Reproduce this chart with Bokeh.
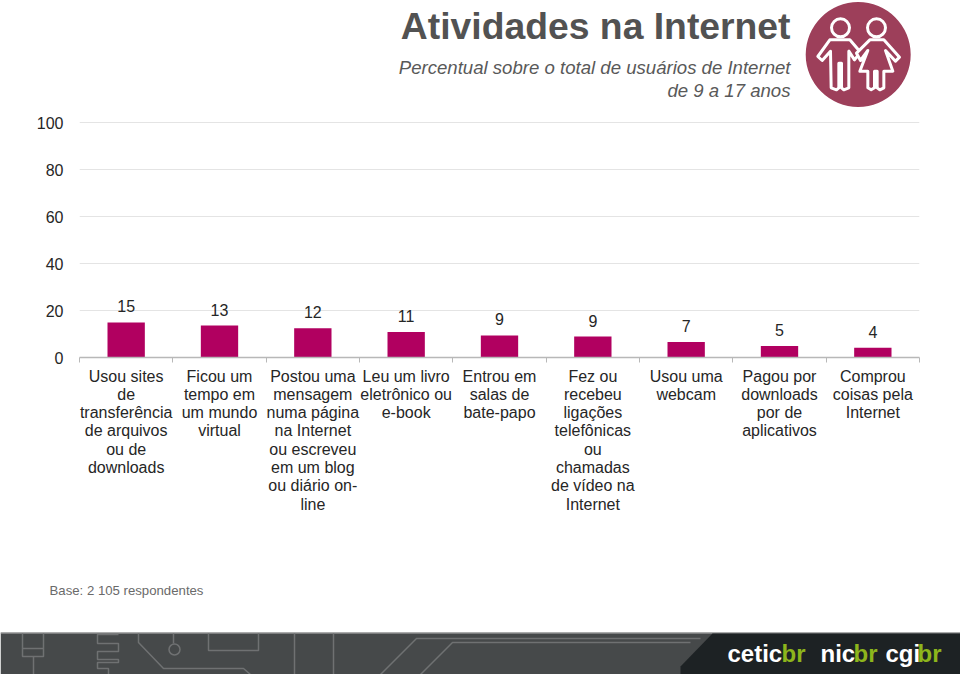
from bokeh.plotting import figure
from bokeh.embed import file_html
from bokeh.resources import INLINE
from bokeh.layouts import column
from bokeh.models import Range1d, LinearAxis, FixedTicker, AllLabels
from bokeh.core.properties import value
from bokeh.models import ColumnDataSource

FONT = "Liberation Sans"

categories = [
    "Usou sites\nde\ntransferência\nde arquivos\nou de\ndownloads",
    "Ficou um\ntempo em\num mundo\nvirtual",
    "Postou uma\nmensagem\nnuma página\nna Internet\nou escreveu\nem um blog\nou diário on-\nline",
    "Leu um livro\neletrônico ou\ne-book",
    "Entrou em\nsalas de\nbate-papo",
    "Fez ou\nrecebeu\nligações\ntelefônicas\nou\nchamadas\nde vídeo na\nInternet",
    "Usou uma\nwebcam",
    "Pagou por\ndownloads\npor de\naplicativos",
    "Comprou\ncoisas pela\nInternet",
]
bar_values = [14.9, 13.6, 12.4, 10.8, 9.4, 8.9, 6.6, 4.9, 4.1]
value_labels = ["15", "13", "12", "11", "9", "9", "7", "5", "4"]
y_ticks = [0, 20, 40, 60, 80, 100]

title_text = "Atividades na Internet"
subtitle_lines = ["Percentual sobre o total de usuários de Internet", "de 9 a 17 anos"]
base_text = "Base: 2 105 respondentes"

PAGE_W = 960
PAGE_H = 674
HEAD_B = 110
CHART_B = 530


def page_figure(top, bottom):
    p = figure(width=PAGE_W, height=bottom - top, output_backend="svg", toolbar_location=None,
               x_range=Range1d(0, PAGE_W), y_range=Range1d(bottom, top),
               x_axis_type=None, y_axis_type=None, frame_align=False,
               min_border=0, min_border_left=0, min_border_right=0, min_border_top=0, min_border_bottom=0)
    p.outline_line_color = None
    p.background_fill_color = "white"
    return p


# ---------- header ----------
head = page_figure(0, HEAD_B)
head.text([790], [25.5], text=[title_text], text_font=value(FONT), text_font_style="bold",
          text_font_size="37.3px", text_color="#525252", text_align="right", text_baseline="middle")
head.text([790, 790], [67, 90], text=subtitle_lines, text_font=value(FONT), text_font_style="italic",
          text_font_size="18.6px", text_color="#595959", text_align="right", text_baseline="middle")
head.circle([857.7], [54], radius=52.5, fill_color="#9d3f5a", line_color=None)


def z(points):
    return [780 + a / 3 for a, _ in points], [b / 3 for _, b in points]


boy = [(148, 118), (208, 118), (240, 155), (222, 178), (205, 152), (205, 262), (190, 268), (183, 262),
       (183, 188), (175, 188), (175, 262), (168, 268), (152, 262), (150, 152), (125, 180), (112, 168)]
girl = [(268, 118), (310, 118), (357, 170), (345, 182), (315, 150), (337, 212), (310, 212), (310, 262),
        (298, 268), (290, 262), (290, 212), (282, 212), (282, 262), (272, 268), (262, 262), (262, 212),
        (238, 212), (262, 150), (240, 180), (228, 158)]
for shape in (boy, girl):
    xs, ys = z(shape)
    head.patch(xs, ys, fill_color="#9d3f5a", line_color="white", line_width=3, line_join="round")
head.circle([840, 876], [27.3, 27.3], radius=9, fill_color="#9d3f5a", line_color="white", line_width=3)

# ---------- chart ----------
n = len(categories)
centers = [i + 0.5 for i in range(n)]
edges = list(range(n + 1))
PX_PER_UNIT = 2.35
FRAME_H = 357 - HEAD_B

chart = figure(width=PAGE_W, height=CHART_B - HEAD_B, output_backend="svg", toolbar_location=None,
               x_range=Range1d(0, n), y_range=Range1d(0, FRAME_H / PX_PER_UNIT),
               x_axis_type=None, y_axis_type=None, frame_align=False,
               min_border_left=79, min_border_right=41, min_border_top=0, min_border_bottom=CHART_B - 357)
chart.outline_line_color = None

yaxis = LinearAxis(ticker=FixedTicker(ticks=y_ticks))
yaxis.axis_line_color = None
yaxis.major_tick_line_color = None
yaxis.minor_tick_line_color = None
yaxis.major_label_standoff = 10
yaxis.major_label_text_font = FONT
yaxis.major_label_text_font_size = "16px"
yaxis.major_label_text_color = "#262626"
chart.add_layout(yaxis, "left")

xaxis = LinearAxis(ticker=FixedTicker(ticks=centers, minor_ticks=edges))
xaxis.major_label_overrides = dict(zip(centers, categories))
xaxis.major_label_policy = AllLabels()
xaxis.major_label_orientation = "horizontal"
xaxis.major_tick_line_color = None
xaxis.major_tick_in = 0
xaxis.major_tick_out = 0
xaxis.minor_tick_in = 0
xaxis.minor_tick_out = 5
xaxis.minor_tick_line_color = "#b8b8b8"
xaxis.axis_line_color = "#b8b8b8"
xaxis.axis_line_width = 1.5
xaxis.major_label_standoff = 5
xaxis.major_label_text_font = FONT
xaxis.major_label_text_font_size = "16px"
xaxis.major_label_text_color = "#262626"
xaxis.major_label_text_line_height = 1.077
chart.add_layout(xaxis, "below")

chart.ygrid.visible = False
chart.xgrid.visible = False
grid_ticks = [t for t in y_ticks if t > 0]
chart.segment(x0=[0] * len(grid_ticks), x1=[n] * len(grid_ticks), y0=grid_ticks, y1=grid_ticks,
              line_color="#e4e4e4", line_width=1)

src = ColumnDataSource(dict(x=centers, top=bar_values, lab=value_labels))
chart.vbar(x="x", top="top", bottom=0, width=0.4, source=src, fill_color="#b10060", line_color=None)
chart.text(x="x", y="top", text="lab", source=src, text_font=value(FONT), text_font_size="16px",
           text_color="#262626", text_align="center", text_baseline="middle", y_offset=-16)

# ---------- foot ----------
foot = page_figure(CHART_B, PAGE_H)
foot.text([49], [590], text=[base_text], text_font=value(FONT), text_font_size="13.2px",
          text_color="#6a6a6a", text_align="left", text_baseline="middle")
foot.quad(left=0, right=PAGE_W, top=632, bottom=PAGE_H, fill_color="#46494a", line_color=None)
foot.segment([0], [632.5], [PAGE_W], [632.5], line_color="#b5b5b5", line_width=1)
foot.patch([680, 712, PAGE_W, PAGE_W, 680], [666, 633, 633, PAGE_H, PAGE_H], fill_color="#1d2224", line_color=None)

trace = "#6f7172"
traces = [
    ([22, 22, 43, 43], [633, 656, 656, 633]),
    ([22, 43], [648, 648]),
    ([33, 33], [656, 674]),
    ([118, 97, 97, 118, 118, 97, 97, 118, 118, 97, 97, 108, 108],
     [634, 634, 643, 643, 651, 651, 659, 659, 662, 662, 668, 668, 674]),
    ([138, 138, 163, 243, 250], [633, 642, 668, 668, 674]),
    ([173, 173], [633, 643]),
    ([208, 208, 258, 258], [633, 650, 650, 633]),
    ([294, 294], [633, 674]),
    ([333, 333], [633, 674]),
    ([380, 416, 700], [674, 638, 638]),
    ([420, 452, 690], [674, 642, 642]),
]
for xs, ys in traces:
    foot.line(xs, ys, line_color=trace, line_width=1.5)
foot.circle([174], [649], radius=5.5, fill_color=None, line_color=trace, line_width=1.5)

logos = [("cetic", 727, "br", 781), ("nic", 820, "br", 853), ("cgi", 885, "br", 917)]
for w, wx, g, gx in logos:
    foot.text([wx], [666], text=[w], text_font=value(FONT), text_font_style="bold",
              text_font_size="24px", text_color="white", text_align="left", text_baseline="bottom")
    foot.text([gx], [666], text=[g], text_font=value(FONT), text_font_style="bold",
              text_font_size="24px", text_color="#8db51c", text_align="left", text_baseline="bottom")

page = column(head, chart, foot, spacing=0)
open("out.html", "w").write(file_html(page, INLINE))
